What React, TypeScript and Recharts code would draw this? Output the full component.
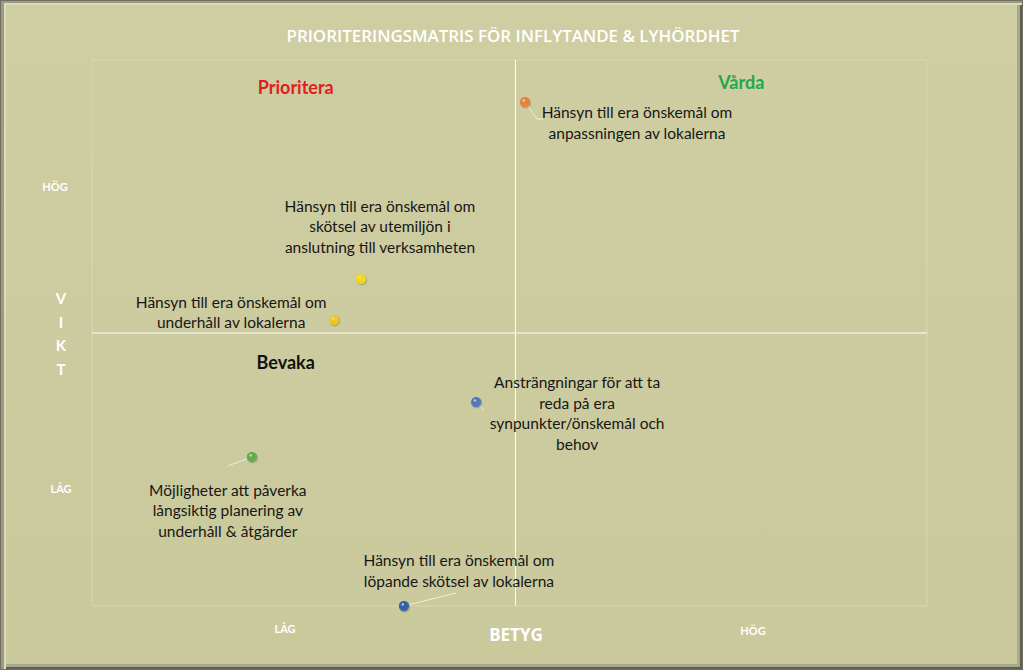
import { CartesianGrid, ReferenceArea, ReferenceLine, Scatter, ScatterChart, XAxis, YAxis } from "recharts";

const betyg = [7.16, 4.41, 3.96, 6.34, 2.58, 5.13];
const vikt = [18.46, 11.98, 10.48, 7.47, 5.46, 0];
const pointColors = ["#e8803a", "#f2dc10", "#f0c820", "#4a74c4", "#5cae46", "#2c5ea8"];
const pointLabels = [
  ["Hänsyn till era önskemål om", "anpassningen av lokalerna"],
  ["Hänsyn till era önskemål om", "skötsel av utemiljön i", "anslutning till verksamheten"],
  ["Hänsyn till era önskemål om", "underhåll av lokalerna"],
  ["Ansträngningar för att ta", "reda på era", "synpunkter/önskemål och", "behov"],
  ["Möjligheter att påverka", "långsiktig planering av", "underhåll & åtgärder"],
  ["Hänsyn till era önskemål om", "löpande skötsel av lokalerna"],
];
const xDomain = [-0.1, 13.9];
const yDomain = [0, 20];
const xTicks = [0, 1, 2, 3, 4, 5, 6, 7, 8, 9, 10, 11, 12, 13];
const yTicks = [0, 1, 2, 3, 4, 5, 6, 7, 8, 9, 10, 11, 12, 13, 14, 15, 16, 17, 18, 19, 20];
const xMid = 7;
const yMid = 10;

// where each label sits relative to its point (layout only)
const labelPlacement = [
  { dx: 112, dy: 10, lead: [[12, 17], [18, 17]] },
  { dx: 19, dy: -73, lead: [] },
  { dx: -103, dy: -18, lead: [] },
  { dx: 101, dy: -20, lead: [[8, 8]] },
  { dx: -24, dy: 33, lead: [[-24, 9]] },
  { dx: 55, dy: -46, lead: [[52, -13]] },
];

const data = betyg.map((x, i) => ({ x, y: vikt[i], i }));

const LINE_H = 20.5;
const FONT = "Lato, 'Open Sans', sans-serif";

function PointShape(props: any) {
  const { cx, cy, payload } = props;
  const i = payload.i;
  const place = labelPlacement[i];
  const lines = pointLabels[i];
  let path = `M${cx},${cy}`;
  place.lead.forEach(([lx, ly]) => (path += ` L${cx + lx},${cy + ly}`));
  return (
    <g>
      {place.lead.length > 0 && <path d={path} stroke="#eeeedd" strokeWidth={1} fill="none" />}
      <circle cx={cx + 0.8} cy={cy + 1} r={5.5} fill="rgba(80,80,50,0.25)" />
      <circle cx={cx} cy={cy} r={5.2} fill={`url(#grad${i})`} />
      <text
        x={cx + place.dx}
        y={cy + place.dy}
        textAnchor="middle"
        fontFamily={FONT}
        fontSize={15.5}
        fill="#161616"
      >
        {lines.map((l, k) => (
          <tspan key={k} x={cx + place.dx} y={cy + place.dy + k * LINE_H} dominantBaseline="central">
            {l}
          </tspan>
        ))}
      </text>
    </g>
  );
}

function quadrantLabel(text: string, color: string, dx: number, dy: number) {
  return (p: any) => {
    const vb = p.viewBox;
    return (
      <text
        x={vb.x + vb.width / 2 + dx}
        y={vb.y + dy}
        textAnchor="middle"
        dominantBaseline="central"
        fontFamily={FONT}
        fontWeight={700}
        fontSize={18}
        fill={color}
      >
        {text}
      </text>
    );
  };
}

const white = "#ffffff";

export default function App() {
  return (
    <div
      style={{
        position: "absolute",
        left: 0,
        top: 0,
        width: 1023,
        height: 670,
        boxSizing: "border-box",
        background: "linear-gradient(#cfcea3, #cac99c)",
        border: "1px solid #6f6f60",
        boxShadow: "inset 3px 2px 0 #9b9a82, inset 5px 4px 0 #dcdbbb, inset -2px -2px 0 #5e5e52, inset -5px -5px 0 #a9a88e",
      }}
    >
      <div style={{ position: "absolute", left: -1, top: -1 }}>
        <ScatterChart width={1023} height={670} margin={{ top: 60, right: 96, bottom: 64, left: 92 }}>
          <defs>
            {pointColors.map((c, i) => (
              <radialGradient key={i} id={`grad${i}`} cx="50%" cy="50%" r="50%" fx="35%" fy="30%">
                <stop offset="0%" stopColor="#ffffff" stopOpacity={0.55} />
                <stop offset="35%" stopColor={c} />
                <stop offset="100%" stopColor={c} stopOpacity={0.85} />
              </radialGradient>
            ))}
          </defs>
          <CartesianGrid stroke="#d7d6b2" strokeWidth={1} />
          <XAxis
            type="number"
            dataKey="x"
            domain={xDomain}
            ticks={xTicks}
            height={0}
            tick={false}
            tickLine={false}
            axisLine={{ stroke: "#8e8d78" }}
          />
          <YAxis
            type="number"
            dataKey="y"
            domain={yDomain}
            ticks={yTicks}
            width={0}
            tick={false}
            tickLine={false}
            axisLine={{ stroke: "#8e8d78" }}
          />
          <ReferenceArea x1={xDomain[0]} x2={xMid} y1={yMid} y2={20} fill="none" label={quadrantLabel("Prioritera", "#e01e1e", -8, 27)} />
          <ReferenceArea x1={xMid} x2={xDomain[1]} y1={yMid} y2={20} fill="none" label={quadrantLabel("Vårda", "#22a84c", 20, 22)} />
          <ReferenceArea x1={xDomain[0]} x2={xMid} y1={0} y2={yMid} fill="none" label={quadrantLabel("Bevaka", "#111111", -18, 29)} />
          <ReferenceLine x={xMid} stroke={white} strokeWidth={1} />
          <ReferenceLine y={yMid} stroke={white} strokeWidth={1} />
          <Scatter data={data} shape={PointShape} isAnimationActive={false} />
        </ScatterChart>
      </div>
      <svg
        width={1023}
        height={670}
        style={{ position: "absolute", left: -1, top: -1, pointerEvents: "none" }}
        fontFamily={FONT}
        fill={white}
      >
        <text
          x={513}
          y={35}
          textAnchor="middle"
          dominantBaseline="central"
          fontFamily="'Liberation Sans Narrow', 'Open Sans', sans-serif"
          fontSize={17}
          fontWeight={600}
          textLength={453}
          lengthAdjust="spacingAndGlyphs"
        >
          PRIORITERINGSMATRIS  FÖR INFLYTANDE &amp; LYHÖRDHET
        </text>
        <text x={55} y={186} textAnchor="middle" dominantBaseline="central" fontSize={11} fontWeight={700}>HÖG</text>
        <text x={61} y={488} textAnchor="middle" dominantBaseline="central" fontSize={11} fontWeight={700}>LÅG</text>
        {["V", "I", "K", "T"].map((ch, k) => (
          <text key={ch} x={61} y={298 + k * 23.7} textAnchor="middle" dominantBaseline="central" fontSize={15} fontWeight={700}>
            {ch}
          </text>
        ))}
        <text x={285} y={628} textAnchor="middle" dominantBaseline="central" fontSize={11} fontWeight={700}>LÅG</text>
        <text x={753} y={630} textAnchor="middle" dominantBaseline="central" fontSize={11} fontWeight={700}>HÖG</text>
        <text
          x={516}
          y={634}
          textAnchor="middle"
          dominantBaseline="central"
          fontFamily="'Liberation Sans Narrow', 'Open Sans', sans-serif"
          fontSize={17}
          fontWeight={700}
        >
          BETYG
        </text>
      </svg>
    </div>
  );
}
